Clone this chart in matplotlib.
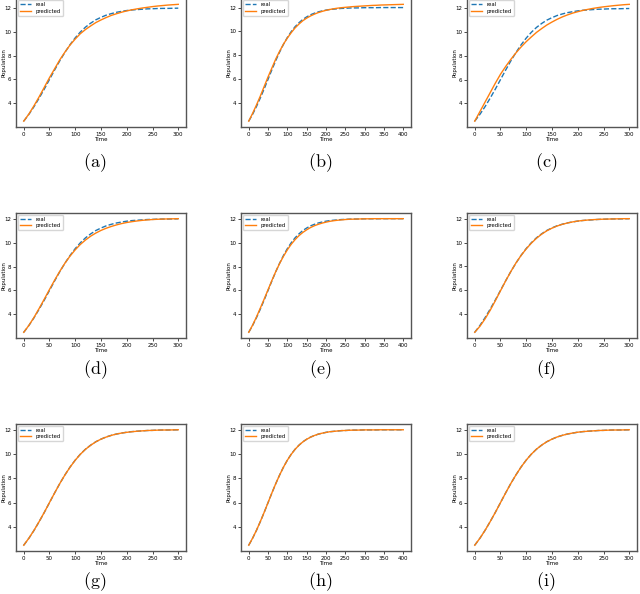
import matplotlib
matplotlib.use("Agg")
import matplotlib.pyplot as plt

plt.rcParams['mathtext.fontset'] = 'cm'

# Time grids (step 10)
time_300 = list(range(0, 301, 10))
time_400 = list(range(0, 401, 10))

# Real population (shared by all panels)
real_pop = [2.50, 3.07, 3.72, 4.44, 5.20, 6.00, 6.80, 7.57, 8.28, 8.93,
            9.50, 9.99, 10.40, 10.73, 11.01, 11.22, 11.40, 11.53, 11.64, 11.72,
            11.79, 11.84, 11.87, 11.90, 11.93, 11.94, 11.96, 11.97, 11.97, 11.98,
            11.99, 11.99, 11.99, 11.99, 12.00, 12.00, 12.00, 12.00, 12.00, 12.00,
            12.00]

pred_a = [2.50, 3.10, 3.80, 4.55, 5.35, 6.15, 6.90, 7.65, 8.30, 8.90,
          9.40, 9.85, 10.20, 10.50, 10.78, 11.00, 11.20, 11.38, 11.52, 11.65,
          11.76, 11.85, 11.93, 12.00, 12.06, 12.12, 12.17, 12.21, 12.25, 12.28,
          12.31]
pred_b = [2.50, 3.15, 3.85, 4.60, 5.40, 6.20, 6.95, 7.70, 8.35, 8.95,
          9.45, 9.90, 10.30, 10.62, 10.90, 11.12, 11.30, 11.45, 11.58, 11.68,
          11.77, 11.84, 11.90, 11.95, 11.99, 12.02, 12.05, 12.08, 12.10, 12.12,
          12.14, 12.16, 12.18, 12.19, 12.21, 12.22, 12.23, 12.24, 12.25, 12.26,
          12.27]
pred_c = [2.50, 3.30, 4.10, 4.90, 5.70, 6.45, 7.10, 7.70, 8.25, 8.75,
          9.20, 9.60, 9.98, 10.30, 10.60, 10.85, 11.08, 11.28, 11.45, 11.60,
          11.72, 11.83, 11.92, 12.00, 12.07, 12.13, 12.18, 12.23, 12.27, 12.31,
          12.34]
pred_d = [2.50, 3.08, 3.75, 4.50, 5.28, 6.08, 6.86, 7.60, 8.28, 8.88,
          9.40, 9.85, 10.22, 10.54, 10.80, 11.02, 11.20, 11.35, 11.48, 11.59,
          11.68, 11.75, 11.81, 11.86, 11.90, 11.93, 11.95, 11.97, 11.98, 11.99,
          12.00]
pred_e = [2.50, 3.10, 3.78, 4.52, 5.28, 6.06, 6.84, 7.58, 8.26, 8.86,
          9.40, 9.86, 10.25, 10.58, 10.85, 11.07, 11.26, 11.41, 11.53, 11.63,
          11.71, 11.78, 11.83, 11.87, 11.90, 11.93, 11.95, 11.96, 11.97, 11.98,
          11.99, 11.99, 12.00, 12.00, 12.00, 12.00, 12.00, 12.00, 12.00, 12.00,
          12.00]
pred_f = [2.50, 3.00, 3.62, 4.34, 5.14, 5.97, 6.79, 7.57, 8.29, 8.92,
          9.47, 9.95, 10.36, 10.70, 10.98, 11.20, 11.38, 11.52, 11.63, 11.72,
          11.79, 11.84, 11.88, 11.91, 11.93, 11.95, 11.96, 11.97, 11.98, 11.99,
          11.99]
pred_g = [2.50, 3.08, 3.73, 4.45, 5.21, 6.01, 6.80, 7.57, 8.28, 8.92,
          9.49, 9.98, 10.39, 10.72, 11.00, 11.22, 11.39, 11.53, 11.64, 11.72,
          11.78, 11.83, 11.87, 11.90, 11.93, 11.94, 11.96, 11.97, 11.97, 11.98,
          11.99]
pred_h = [2.50, 3.08, 3.73, 4.45, 5.21, 6.01, 6.81, 7.57, 8.28, 8.93,
          9.50, 9.98, 10.39, 10.73, 11.00, 11.22, 11.39, 11.53, 11.64, 11.72,
          11.78, 11.84, 11.87, 11.90, 11.93, 11.94, 11.96, 11.97, 11.97, 11.98,
          11.99, 11.99, 11.99, 11.99, 12.00, 12.00, 12.00, 12.00, 12.00, 12.00,
          12.00]
pred_i = [2.50, 3.07, 3.72, 4.44, 5.20, 6.00, 6.80, 7.57, 8.28, 8.93,
          9.50, 9.99, 10.40, 10.73, 11.01, 11.22, 11.40, 11.53, 11.64, 11.72,
          11.79, 11.84, 11.87, 11.90, 11.93, 11.94, 11.96, 11.97, 11.97, 11.98,
          11.99]

panel_labels = ['(a)', '(b)', '(c)', '(d)', '(e)', '(f)', '(g)', '(h)', '(i)']
preds = [pred_a, pred_b, pred_c, pred_d, pred_e, pred_f, pred_g, pred_h, pred_i]

W, H = 640, 594
fig = plt.figure(figsize=(6.4, 5.94), dpi=100)

col_lr = [(16, 186), (241, 411), (467, 637)]
row_tb = [(-1.5, 127), (213, 338), (424, 551)]
label_y = [163, 370, 582]

for idx in range(9):
    r, c = divmod(idx, 3)
    x0, x1 = col_lr[c]
    t0, t1 = row_tb[r]
    ax = fig.add_axes([x0 / W, 1 - t1 / H, (x1 - x0) / W, (t1 - t0) / H])
    pred = preds[idx]
    times = time_300 if len(pred) == len(time_300) else time_400
    real = real_pop[:len(times)]
    ax.plot(times, real, '--', color='#1f77b4', lw=1.0, label='real')
    ax.plot(times, pred, '-', color='#ff7f0e', lw=1.0, label='predicted')
    ax.set_xlabel('Time', fontsize=4)
    ax.set_ylabel('Population', fontsize=4)
    ax.xaxis.set_label_coords(0.5, -10.0 / (t1 - t0))
    ax.yaxis.set_label_coords(-9.5 / (x1 - x0), 0.5)
    ax.tick_params(labelsize=4, length=2, width=0.5, pad=1.5)
    ax.set_yticks([4, 6, 8, 10, 12])
    for s in ax.spines.values():
        s.set_color('#555555')
        s.set_linewidth(1.0)
    ax.legend(loc='upper left', fontsize=3.8, handlelength=2.2, borderpad=0.4,
              labelspacing=0.3, borderaxespad=0.3, framealpha=0.8)
    cx = (x0 + x1) / 2 - 6
    fig.text(cx / W, 1 - label_y[r] / H, r'$\mathrm{' + panel_labels[idx] + '}$',
             fontsize=13, ha='center', va='center')

fig.savefig('out.png', dpi=100)
